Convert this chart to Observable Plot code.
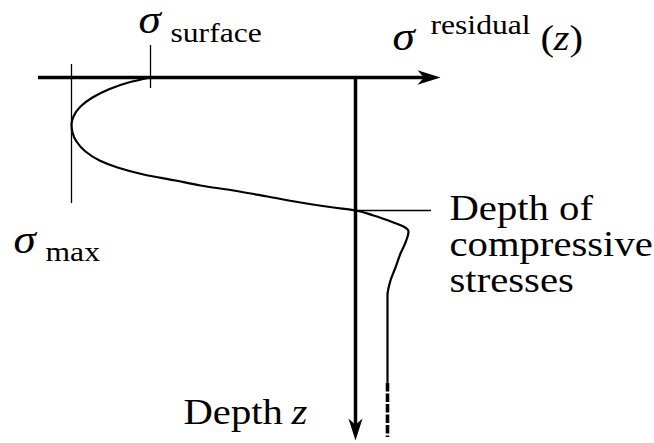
<!DOCTYPE html>
<html>
<head>
<meta charset="utf-8">
<script src="https://cdn.jsdelivr.net/npm/d3@7"></script>
<script src="https://cdn.jsdelivr.net/npm/@observablehq/plot@0.6"></script>
<style>
  html, body { margin: 0; padding: 0; background: #fff; }
  #chart svg { display: block; }
</style>
</head>
<body>
<div id="chart"></div>
<script>
// Residual stress profile σ(z) below a peened surface: stress in MPa, depth in mm.
const depthMm = [0, 0.025, 0.06, 0.10, 0.145, 0.195, 0.235, 0.275, 0.32, 0.37, 0.415, 0.45,
  0.485, 0.515, 0.54, 0.565, 0.595, 0.625, 0.65, 0.665, 0.69, 0.725, 0.745, 0.77, 0.825,
  0.88, 0.95, 1.015, 1.09, 1.18, 1.53];
const stressMPa = [-512.5, -567.5, -617.5, -657.5, -687.5, -705, -710, -707.5, -697.5, -675,
  -640, -595, -530, -450, -387.5, -305, -220, -137.5, -55, 0, 45, 95, 120, 132.5, 125,
  112.5, 100, 87.5, 80, 80, 80];

// Far-field tensile stress, continued as a dashed line deeper into the part
const farFieldStress = [80];
const farFieldDepth = [1.53, 1.80];

// Characteristic values marked on the profile
const sigmaSurface = [-512.5];
const sigmaMax = [-710];
const depthCompressive = [0.665];

// Extents of the two axes (stress axis to the right, depth axis downwards)
const stressAxis = [-792.5, 212.5];
const depthAxis = [0, 1.815];

// Label texts
const sigmaGlyph = ["σ"];
const subSurface = ["surface"];
const supResidual = ["residual"];
const subMax = ["max"];
const compressiveLabel = ["Depth of\ncompressive\nstresses"];
const depthLabel = ["Depth"];
const zLabel = ["z"];

const profile = depthMm.map((d, i) => ({depth: d, stress: stressMPa[i]}));

// Filled arrowheads as custom dot symbols; the tip sits at the dot position
const arrowHead = (dirX, dirY) => ({
  draw(ctx, size) {
    const L = Math.sqrt(size / Math.PI), W = 0.32 * L, N = 0.72 * L;
    const px = -dirY, py = dirX; // perpendicular
    ctx.moveTo(0, 0);
    ctx.lineTo(-dirX * L + px * W, -dirY * L + py * W);
    ctx.lineTo(-dirX * N, -dirY * N);
    ctx.lineTo(-dirX * L - px * W, -dirY * L - py * W);
    ctx.closePath();
  }
});

const serif = "'Liberation Serif', 'Times New Roman', serif";
const txt = (data, o) => Plot.text(data, {
  fontFamily: serif, textAnchor: "start", lineAnchor: "bottom", fill: "black", ...o
});

const svg = Plot.plot({
  width: 654,
  height: 443,
  margin: 0,
  style: {background: "white", overflow: "visible"},
  x: {domain: [-887.5, 747.5], range: [0, 654], axis: null},
  y: {domain: [-0.385, 1.83], range: [0, 443], axis: null},
  marks: [
    // marker lines for σ_surface, σ_max and the depth of compressive stresses
    Plot.ruleX(sigmaSurface, {x: d => d, y1: -0.16, y2: 0.055, strokeWidth: 1.3}),
    Plot.ruleX(sigmaMax, {x: d => d, y1: -0.065, y2: 0.63, strokeWidth: 1.3}),
    Plot.ruleY(depthCompressive, {y: d => d, x1: 0, x2: 190, strokeWidth: 1.3}),
    // axes
    Plot.ruleY([0], {x1: stressAxis[0], x2: stressAxis[1] - 30, strokeWidth: 3.5}),
    Plot.ruleX([0], {y1: depthAxis[0], y2: depthAxis[1] - 0.06, strokeWidth: 3.5}),
    Plot.dot([0], {x: stressAxis[1], y: 0, r: 23, symbol: arrowHead(1, 0), fill: "black", stroke: "none"}),
    Plot.dot([0], {x: 0, y: depthAxis[1], r: 22, symbol: arrowHead(0, 1), fill: "black", stroke: "none"}),
    // stress profile
    Plot.line(profile, {x: "stress", y: "depth", curve: "monotone-y", strokeWidth: 2.2}),
    Plot.ruleX(farFieldStress, {x: d => d, y1: farFieldDepth[0], y2: farFieldDepth[1],
      strokeWidth: 3.6, strokeDasharray: "8.5,2"}),
    // labels
    txt(sigmaGlyph, {x: sigmaSurface[0], y: 0, dx: -12, dy: -45, fontSize: 40, fontStyle: "italic"}),
    txt(subSurface, {x: sigmaSurface[0], y: 0, dx: 20, dy: -36, fontSize: 28}),
    txt(sigmaGlyph, {x: stressAxis[1], y: 0, dx: -48, dy: -28, fontSize: 40, fontStyle: "italic"}),
    txt(supResidual, {x: stressAxis[1], y: 0, dx: -10, dy: -44, fontSize: 28}),
    txt(["("], {x: stressAxis[1], y: 0, dx: 100, dy: -28, fontSize: 36}),
    txt(zLabel, {x: stressAxis[1], y: 0, dx: 113, dy: -28, fontSize: 36, fontStyle: "italic"}),
    txt([")"], {x: stressAxis[1], y: 0, dx: 129, dy: -28, fontSize: 36}),
    txt(sigmaGlyph, {x: sigmaMax[0], y: 0.63, dx: -58, dy: 49, fontSize: 40, fontStyle: "italic"}),
    txt(subMax, {x: sigmaMax[0], y: 0.63, dx: -26, dy: 57, fontSize: 28}),
    txt(compressiveLabel, {x: 190, y: depthCompressive[0], dx: 18, dy: 81, fontSize: 36, lineHeight: 1}),
    txt(depthLabel, {x: 0, y: depthAxis[1], dx: -172, dy: -17, fontSize: 36}),
    txt(zLabel, {x: 0, y: depthAxis[1], dx: -64, dy: -17, fontSize: 36, fontStyle: "italic"})
  ]
});

// The serif lettering is set slightly wide
const stretch = 1.13;
d3.select(svg).selectAll('g[aria-label="text"] > text').each(function () {
  this.style.fontFamily = serif;
  const t = this.getAttribute("transform");
  if (t) {
    this.setAttribute("transform", `${t} scale(${stretch},1)`);
  } else {
    const x = +this.getAttribute("x") || 0, y = +this.getAttribute("y") || 0;
    this.setAttribute("transform", `translate(${x},${y}) scale(${stretch},1) translate(${-x},${-y})`);
  }
});

document.getElementById("chart").appendChild(svg);
</script>
</body>
</html>
